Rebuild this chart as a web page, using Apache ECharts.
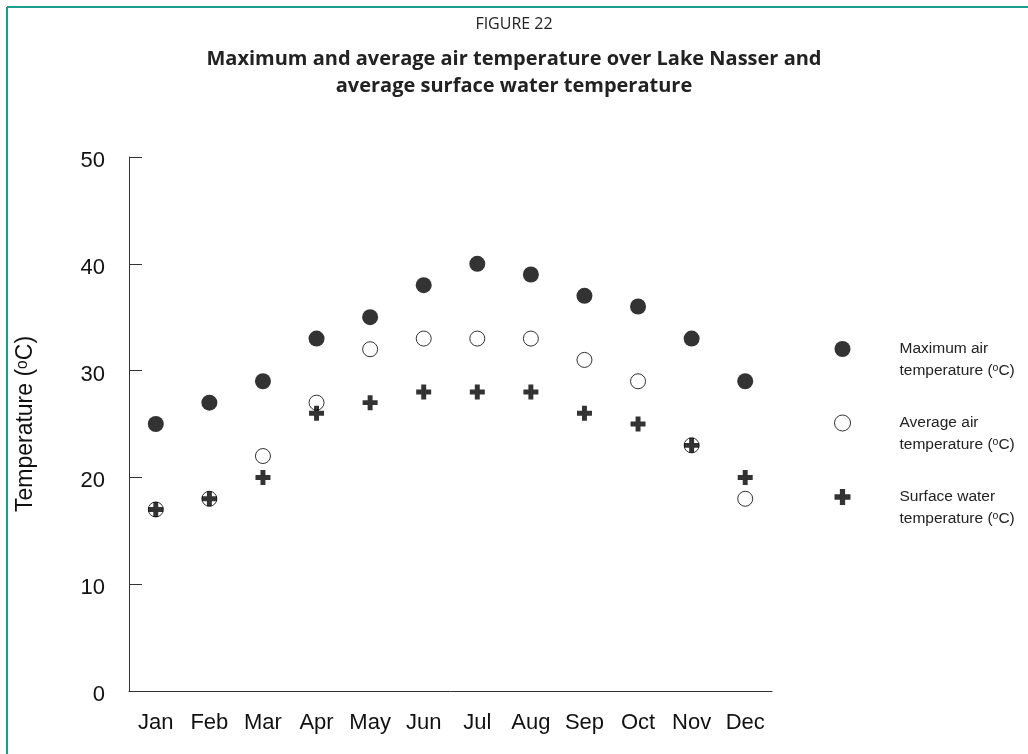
<!DOCTYPE html>
<html>
<head>
<meta charset="utf-8">
<script src="https://cdn.jsdelivr.net/npm/echarts@6/dist/echarts.min.js"></script>
<style>
html,body{margin:0;padding:0;background:#fff;}
#chart{width:1028px;height:754px;}
</style>
</head>
<body>
<div id="chart"></div>
<script>
var months = ['Jan','Feb','Mar','Apr','May','Jun','Jul','Aug','Sep','Oct','Nov','Dec'];
var maxAir = [25,27,29,33,35,38,40,39,37,36,33,29];
var avgAir = [17,18,22,27,32,33,33,33,31,29,23,18];
var surfaceWater = [17,18,20,26,27,28,28,28,26,25,23,20];
var yTicks = [0,10,20,30,40,50];
var seriesNames = ['Maximum air\ntemperature (\u1d52C)','Average air\ntemperature (\u1d52C)','Surface water\ntemperature (\u1d52C)'];

var plusPath = 'path://M3.35,0H6.65V3.35H10V6.65H6.65V10H3.35V6.65H0V3.35H3.35Z';

var chart = echarts.init(document.getElementById('chart'), null, {renderer:'canvas'});
var option = {
  backgroundColor:'#ffffff',
  animation:false,
  title:[
    {text:'FIGURE 22', left:'center', top:11, textStyle:{fontFamily:'Open Sans', fontWeight:'normal', fontSize:16, color:'#222'}},
    {text:'Maximum and average air temperature over Lake Nasser and\naverage surface water temperature', left:'center', top:41,
     textStyle:{fontFamily:'Open Sans', fontWeight:'bold', fontSize:20, lineHeight:27, color:'#222'}}
  ],
  graphic:[
    {type:'line', shape:{x1:7, y1:7, x2:1028, y2:7}, style:{stroke:'#1a9e8f', lineWidth:2}},
    {type:'line', shape:{x1:7, y1:7, x2:7, y2:754}, style:{stroke:'#1a9e8f', lineWidth:2}}
  ],
  grid:{left:129, right:256, top:157, bottom:63},
  legend:{
    orient:'vertical', left:829, top:311, itemWidth:16, itemHeight:16, itemGap:8,
    formatter:function(name){ return '\n' + name; },
    data:[
      {name:seriesNames[0], icon:'circle', itemStyle:{color:'#000'}},
      {name:seriesNames[1], icon:'circle', itemStyle:{color:'#fff', borderColor:'#000', borderWidth:1}},
      {name:seriesNames[2], icon:plusPath, itemStyle:{color:'#000'}}
    ],
    textStyle:{fontFamily:'Liberation Sans', fontSize:15.5, lineHeight:22, color:'#222', padding:[0,0,0,44]}
  },
  xAxis:{
    type:'category', data:months, boundaryGap:true,
    axisLine:{lineStyle:{color:'#333', width:1}},
    axisTick:{inside:true, length:12, alignWithLabel:true, lineStyle:{color:'#333'}},
    axisLabel:{fontFamily:'Liberation Sans', fontSize:22, color:'#111', margin:21, interval:0},
    splitLine:{show:false}
  },
  yAxis:{
    type:'value', min:yTicks[0], max:yTicks[yTicks.length-1], interval:10,
    name:'Temperature (\u1d52C)', nameLocation:'middle', nameGap:92,
    nameTextStyle:{fontFamily:'Liberation Sans', fontSize:23, color:'#111'},
    axisLine:{show:true, lineStyle:{color:'#333', width:1}},
    axisTick:{show:true, inside:true, length:13, lineStyle:{color:'#333'}},
    axisLabel:{fontFamily:'Liberation Sans', fontSize:22, color:'#111', margin:24,
      formatter:'{a|{value}}', rich:{a:{fontFamily:'Liberation Sans', fontSize:22, color:'#111', padding:[8,0,0,0]}}},
    splitLine:{show:false}
  },
  series:[
    {name:seriesNames[0], type:'scatter', data:maxAir, symbol:'circle', symbolSize:16, itemStyle:{color:'#000'}},
    {name:seriesNames[1], type:'scatter', data:avgAir, symbol:'circle', symbolSize:15, itemStyle:{color:'#fff', borderColor:'#000', borderWidth:1}},
    {name:seriesNames[2], type:'scatter', data:surfaceWater, symbol:plusPath, symbolSize:15, itemStyle:{color:'#000'}}
  ]
};
chart.setOption(option);
</script>
</body>
</html>
